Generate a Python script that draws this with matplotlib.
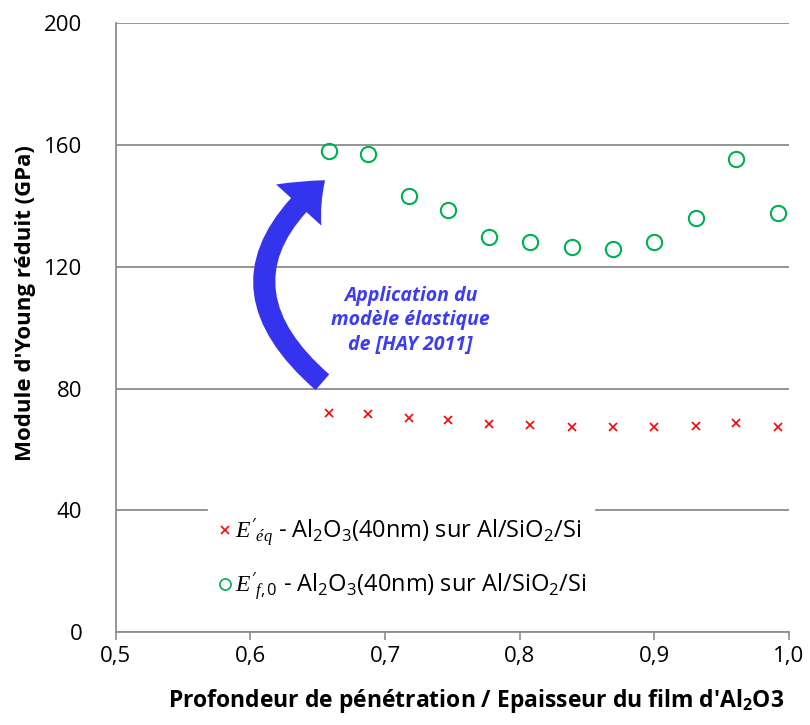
import matplotlib.pyplot as plt
from matplotlib.patches import FancyArrowPatch

# Data
ratio = [0.658, 0.687, 0.718, 0.747, 0.777, 0.808, 0.839, 0.869, 0.900, 0.931, 0.961, 0.992]
E_eq = [72.0, 71.7, 70.4, 69.7, 68.4, 68.1, 67.4, 67.4, 67.4, 67.8, 68.8, 67.4]
E_f0 = [157.9, 156.9, 143.1, 138.5, 129.9, 128.3, 126.6, 125.9, 128.3, 135.9, 155.3, 137.8]
x_ticks = [0.5, 0.6, 0.7, 0.8, 0.9, 1.0]
y_ticks = [0, 40, 80, 120, 160, 200]

plt.rcParams['font.family'] = ['Open Sans', 'DejaVu Sans']
plt.rcParams['mathtext.fontset'] = 'custom'
plt.rcParams['mathtext.rm'] = 'Open Sans'
plt.rcParams['mathtext.it'] = 'Liberation Serif:italic'
plt.rcParams['mathtext.bf'] = 'Open Sans:bold'

fig = plt.figure(figsize=(8.1, 7.25), dpi=100)
ax = fig.add_axes([0.143, 0.128, 0.831, 0.840])

ax.set_xlim(0.5, 1.0)
ax.set_ylim(0, 200)
ax.set_xticks(x_ticks)
ax.set_xticklabels([f"{v:.1f}".replace('.', ',') for v in x_ticks])
ax.set_yticks(y_ticks)
ax.tick_params(axis='both', labelsize=16, colors='black')
ax.tick_params(axis='x', length=6, color='#8c8c8c', width=1.2, pad=4)
ax.tick_params(axis='y', length=0, pad=24)
ax.grid(axis='y', color='#8c8c8c', linewidth=1.3)
ax.set_axisbelow(True)
for s in ['top', 'right']:
    ax.spines[s].set_visible(False)
for s in ['left', 'bottom']:
    ax.spines[s].set_color('#8c8c8c')
    ax.spines[s].set_linewidth(1.3)

ax.plot(ratio, E_eq, linestyle='none', marker='x', color='red', markersize=6,
        markeredgewidth=1.2,
        label=r"$E'_{éq}$ - Al$_2$O$_3$(40nm) sur Al/SiO$_2$/Si")
ax.plot(ratio, E_f0, linestyle='none', marker='o', markerfacecolor='none',
        markeredgecolor='#00b050', markersize=11, markeredgewidth=1.5,
        label=r"$E'_{f,0}$ - Al$_2$O$_3$(40nm) sur Al/SiO$_2$/Si")

leg = ax.legend(loc='lower left', bbox_to_anchor=(0.13, 0.03), fontsize=17,
                frameon=True, framealpha=1, edgecolor='white', fancybox=False,
                handletextpad=0.05, handlelength=0.8, labelspacing=0.95,
                borderpad=0.3, borderaxespad=0.2)
leg.legend_handles[1].set_markersize(8)
leg.legend_handles[1].set_markeredgewidth(1.2)

# curved arrow from the E_eq points up to the E_f0 points
arrow = FancyArrowPatch((0.655, 81.5), (0.657, 149),
                        connectionstyle="arc3,rad=-0.6",
                        arrowstyle="simple,head_width=2.2,head_length=1.3,tail_width=0.75",
                        mutation_scale=20, color='#3434ee', linewidth=0)
ax.add_patch(arrow)

ax.text(0.719, 102.5, "Application du\nmodèle élastique\nde [HAY 2011]",
        ha='center', va='center', color='#3c3cf5', fontsize=14,
        fontweight='bold', fontstyle='italic', linespacing=1.3)

ax.set_ylabel("Module d'Young réduit (GPa)", fontsize=16, fontweight='bold', labelpad=6)
ax.yaxis.label.set_y(0.54)
ax.set_xlabel(r"Profondeur de pénétration / Epaisseur du film d'Al$_\mathbf{2}$O3",
              fontsize=16.5, fontweight='bold', labelpad=14)
ax.xaxis.label.set_x(0.535)

fig.savefig("out.png", dpi=100)
